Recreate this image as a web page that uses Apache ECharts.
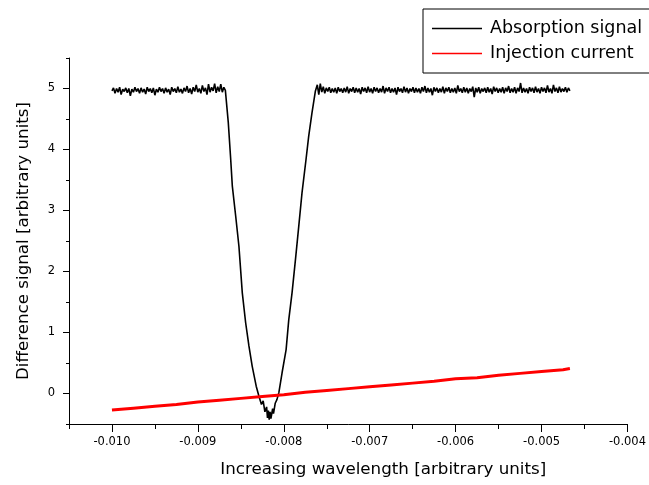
<!DOCTYPE html>
<html>
<head>
<meta charset="utf-8">
<script src="https://cdn.jsdelivr.net/npm/echarts@6/dist/echarts.min.js"></script>
<style>
  html, body { margin: 0; padding: 0; background: #ffffff; }
  #chart { width: 649px; height: 485px; }
</style>
</head>
<body>
<div id="chart"></div>
<script>
// Series names shown in the legend
const seriesNames = ['Absorption signal', 'Injection current'];

// Axis tick positions
const xMajorTicks = [-0.010, -0.009, -0.008, -0.007, -0.006, -0.005, -0.004];
const xMinorTicks = [-0.0105, -0.0095, -0.0085, -0.0075, -0.0065, -0.0055, -0.0045];
const yMajorTicks = [0, 1, 2, 3, 4, 5];
const yMinorTicks = [-0.5, 0.5, 1.5, 2.5, 3.5, 4.5, 5.5];

// Absorption signal: flat level before the line (evenly sampled sweep)
const absorptionLeftRange = [-0.0100, -0.00868];
const absorptionLeftValues = [
  4.96, 5.01, 4.92, 5.00, 4.94, 5.02, 4.90, 4.99, 4.95, 5.01,
  4.93, 5.00, 4.88, 4.99, 4.94, 5.02, 4.95, 5.00, 4.92, 5.01,
  4.94, 4.99, 4.91, 5.02, 4.95, 5.00, 4.93, 5.01, 4.89, 4.99,
  4.94, 5.02, 4.95, 5.00, 4.92, 5.01, 4.94, 4.99, 4.90, 5.02,
  4.95, 5.00, 4.93, 5.03, 4.94, 4.99, 4.92, 5.01, 4.95, 5.04,
  4.93, 5.00, 4.91, 5.02, 4.95, 5.06, 4.94, 5.00, 4.92, 5.05,
  4.95, 5.01, 4.90, 5.07, 4.94, 5.02, 4.96, 5.08, 4.93, 5.03,
  4.95, 5.07, 4.94, 5.02, 4.97
];

// Absorption signal: the absorption dip itself
const absorptionDip = [
  [-0.00866, 4.96], [-0.008646, 4.44], [-0.008618, 3.84], [-0.008599, 3.40],
  [-0.008560, 2.91], [-0.008522, 2.41], [-0.008483, 1.65], [-0.008444, 1.16],
  [-0.008406, 0.78], [-0.008368, 0.45], [-0.008321, 0.12], [-0.00829, -0.04],
  [-0.00826, -0.18], [-0.00824, -0.12], [-0.00822, -0.30], [-0.00820, -0.22],
  [-0.00819, -0.40], [-0.00818, -0.28], [-0.00817, -0.43], [-0.00816, -0.30],
  [-0.00815, -0.41], [-0.00813, -0.25], [-0.00812, -0.33], [-0.00810, -0.16],
  [-0.00808, -0.10], [-0.008058, 0.01], [-0.008020, 0.34], [-0.007973, 0.72],
  [-0.007942, 1.21], [-0.007904, 1.65], [-0.007864, 2.20], [-0.007826, 2.74],
  [-0.007788, 3.29], [-0.007741, 3.84], [-0.007710, 4.22], [-0.007672, 4.60],
  [-0.007632, 4.96]
];

// Absorption signal: flat level after the line (evenly sampled sweep)
const absorptionRightRange = [-0.00761, -0.00467];
const absorptionRightValues = [
  5.06, 4.90, 5.08, 4.94, 5.03, 4.92, 5.01, 4.95, 5.02, 4.93,
  5.00, 4.94, 5.01, 4.92, 5.02, 4.95, 5.00, 4.93, 5.01, 4.94,
  5.03, 4.92, 5.00, 4.95, 5.02, 4.93, 5.01, 4.94, 5.00, 4.91,
  5.02, 4.95, 5.01, 4.93, 5.03, 4.94, 5.00, 4.92, 5.02, 4.95,
  5.01, 4.93, 5.00, 4.94, 5.04, 4.92, 5.01, 4.95, 5.02, 4.93,
  5.00, 4.94, 5.01, 4.90, 5.02, 4.95, 5.00, 4.93, 5.03, 4.94,
  5.01, 4.92, 5.00, 4.95, 5.02, 4.93, 5.01, 4.94, 5.00, 4.92,
  5.02, 4.95, 5.04, 4.93, 5.01, 4.94, 5.00, 4.89, 5.02, 4.95,
  5.01, 4.93, 5.00, 4.94, 5.03, 4.92, 5.01, 4.95, 5.02, 4.93,
  5.00, 4.94, 5.01, 4.92, 5.05, 4.95, 5.00, 4.93, 5.02, 4.94,
  5.01, 4.92, 5.00, 4.95, 5.03, 4.86, 5.01, 4.94, 5.02, 4.92,
  5.00, 4.95, 5.01, 4.93, 5.02, 4.94, 5.00, 4.91, 5.03, 4.95,
  5.01, 4.93, 5.00, 4.94, 5.02, 4.92, 5.01, 4.95, 5.04, 4.93,
  5.00, 4.94, 5.02, 4.92, 5.01, 4.95, 5.09, 4.93, 5.01, 4.94,
  5.00, 4.92, 5.02, 4.95, 5.01, 4.93, 5.03, 4.94, 5.00, 4.92,
  5.02, 4.95, 5.01, 4.93, 5.05, 4.94, 5.00, 4.92, 5.06, 4.95,
  5.01, 4.93, 5.03, 4.94, 5.00, 4.95, 5.02, 4.94, 5.01, 4.96
];

// Injection current ramp
const injectionCurrent = [
  [-0.01000, -0.27], [-0.00975, -0.24], [-0.00950, -0.21], [-0.00925, -0.18],
  [-0.00900, -0.14], [-0.00875, -0.11], [-0.00850, -0.08], [-0.00825, -0.05],
  [-0.00800, -0.02], [-0.00775, 0.02], [-0.00750, 0.05], [-0.00725, 0.08],
  [-0.00700, 0.11], [-0.00675, 0.14], [-0.00650, 0.17], [-0.00625, 0.20],
  [-0.00600, 0.24], [-0.00575, 0.26], [-0.00550, 0.30], [-0.00525, 0.33],
  [-0.00500, 0.36], [-0.00475, 0.39], [-0.00467, 0.41]
];

// Place evenly sampled plateau readings along their sweep range
function sampled(range, values) {
  const step = (range[1] - range[0]) / (values.length - 1);
  return values.map((v, i) => [range[0] + i * step, v]);
}

const absorptionSignal = []
  .concat(sampled(absorptionLeftRange, absorptionLeftValues))
  .concat(absorptionDip)
  .concat(sampled(absorptionRightRange, absorptionRightValues));

const FONT = 'DejaVu Sans';
const chart = echarts.init(document.getElementById('chart'), null, { renderer: 'canvas' });

chart.setOption({
  animation: false,
  backgroundColor: '#ffffff',
  grid: { left: 69, right: 19, top: 58, bottom: 61 },
  legend: {
    orient: 'vertical',
    left: 423,
    top: 9,
    padding: [9, 20, 9, 9],
    itemGap: 4,
    itemWidth: 50,
    itemHeight: 1.5,
    icon: 'rect',
    borderColor: '#000000',
    borderWidth: 1,
    textStyle: { fontFamily: FONT, fontSize: 17.5, color: '#000000', lineHeight: 21, padding: [0, 0, 0, 3] },
    data: seriesNames
  },
  xAxis: [
    {
      type: 'value',
      min: -0.0105,
      max: -0.004,
      name: 'Increasing wavelength [arbitrary units]',
      nameLocation: 'middle',
      nameGap: 37,
      nameTextStyle: { fontFamily: FONT, fontSize: 16.7, color: '#000000', padding: [0, 0, 0, 70] },
      axisLine: { show: true, onZero: false, lineStyle: { color: '#000000', width: 1 } },
      axisTick: { show: true, length: 8, customValues: xMajorTicks, lineStyle: { color: '#000000' } },
      axisLabel: {
        customValues: xMajorTicks,
        margin: 12,
        fontFamily: FONT, fontSize: 11.5, color: '#000000',
        formatter: v => v.toFixed(3)
      },
      splitLine: { show: false }
    },
    {
      type: 'value',
      min: -0.0105,
      max: -0.004,
      position: 'bottom',
      axisLine: { show: false, onZero: false },
      axisTick: { show: true, length: 5, customValues: xMinorTicks, lineStyle: { color: '#000000' } },
      axisLabel: { show: false },
      splitLine: { show: false }
    }
  ],
  yAxis: [
    {
      type: 'value',
      min: -0.5,
      max: 5.5,
      name: 'Difference signal [arbitrary units]',
      nameLocation: 'middle',
      nameGap: 37,
      nameTextStyle: { fontFamily: FONT, fontSize: 16.7, color: '#000000' },
      axisLine: { show: true, onZero: false, lineStyle: { color: '#000000', width: 1 } },
      axisTick: { show: true, length: 6, customValues: yMajorTicks, lineStyle: { color: '#000000' } },
      axisLabel: {
        customValues: yMajorTicks,
        margin: 14,
        fontFamily: FONT, fontSize: 11.5, color: '#000000',
        formatter: v => String(v)
      },
      splitLine: { show: false }
    },
    {
      type: 'value',
      min: -0.5,
      max: 5.5,
      position: 'left',
      axisLine: { show: false, onZero: false },
      axisTick: { show: true, length: 3, customValues: yMinorTicks, lineStyle: { color: '#000000' } },
      axisLabel: { show: false },
      splitLine: { show: false }
    }
  ],
  series: [
    {
      name: seriesNames[0],
      type: 'line',
      xAxisIndex: 0,
      yAxisIndex: 0,
      data: absorptionSignal,
      symbol: 'none',
      color: '#000000',
      lineStyle: { color: '#000000', width: 1.6 }
    },
    {
      name: seriesNames[1],
      type: 'line',
      xAxisIndex: 0,
      yAxisIndex: 0,
      data: injectionCurrent,
      symbol: 'none',
      color: '#ff0000',
      lineStyle: { color: '#ff0000', width: 3 }
    }
  ]
});
</script>
</body>
</html>
